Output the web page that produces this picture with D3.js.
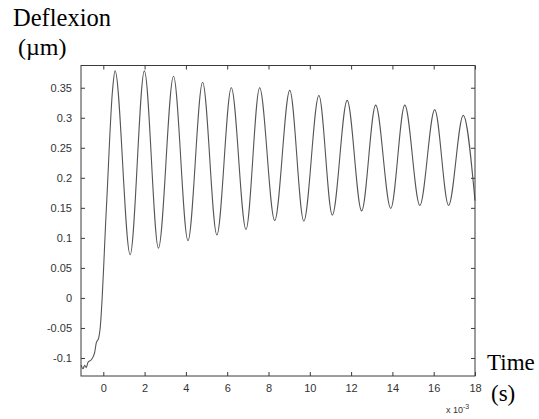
<!DOCTYPE html>
<html>
<head>
<meta charset="utf-8">
<script src="https://cdn.jsdelivr.net/npm/d3@7"></script>
<style>
  body { margin: 0; background: #fff; }
  svg { display: block; }
</style>
</head>
<body>
<svg id="chart" width="539" height="419"></svg>
<script>
// time in ms (x 10^-3 s), deflexion in µm
const timeMs = [
  -1.07, -0.985, -0.90, -0.825, -0.74, -0.58, -0.42, -0.34, -0.22, -0.16,
  0.15, 0.45,
  0.57, 1.30, 1.99, 2.67, 3.40, 4.10, 4.81, 5.50, 6.20, 6.91,
  7.57, 8.30, 9.03, 9.71, 10.44, 11.09, 11.81, 12.51, 13.19, 13.92,
  14.60, 15.33, 16.05, 16.72, 17.43, 18.0
];
const deflexion = [
  -0.112, -0.118, -0.112, -0.116, -0.107, -0.103, -0.091, -0.075, -0.066, -0.053,
  0.150, 0.347,
  0.378, 0.072, 0.378, 0.083, 0.369, 0.0955, 0.359, 0.105, 0.350, 0.114,
  0.350, 0.129, 0.3455, 0.128, 0.337, 0.138, 0.329, 0.145, 0.321, 0.149,
  0.321, 0.154, 0.3135, 0.154, 0.304, 0.162
];

const xTicks = [0, 2, 4, 6, 8, 10, 12, 14, 16, 18];
const xTickLabels = ['0', '2', '4', '6', '8', '10', '12', '14', '16', '18'];
const yTicks = [-0.1, -0.05, 0, 0.05, 0.1, 0.15, 0.2, 0.25, 0.3, 0.35];
const yTickLabels = ['-0.1', '-0.05', '0', '0.05', '0.1', '0.15', '0.2', '0.25', '0.3', '0.35'];

const boxLeft = 81, boxRight = 475, boxTop = 65.5, boxBottom = 376;

const svg = d3.select('#chart');

const x = d3.scaleLinear().domain([-1.08, 18]).range([boxLeft, boxRight]);
const y = d3.scaleLinear().domain([-0.13, 0.387]).range([boxBottom, boxTop]);

const data = timeMs.map((t, i) => ({ t: t, v: deflexion[i] }));

// curve
const line = d3.line()
    .x((d) => x(d.t))
    .y((d) => y(d.v))
    .curve(d3.curveMonotoneX);

svg.append('path')
    .datum(data)
    .attr('d', line)
    .attr('fill', 'none')
    .attr('stroke', '#555')
    .attr('stroke-width', 1.1);

const axisColor = '#3a3a3a';
const tickFont = 'Liberation Sans, Arial, sans-serif';

// bottom axis, ticks inward
const xAxis = svg.append('g')
    .attr('transform', `translate(0,${boxBottom})`)
    .call(d3.axisBottom(x).tickValues(xTicks).tickSizeInner(-4).tickSizeOuter(0)
        .tickPadding(8).tickFormat((d, i) => xTickLabels[i]));

// top axis, ticks only
const xTop = svg.append('g')
    .attr('transform', `translate(0,${boxTop})`)
    .call(d3.axisTop(x).tickValues(xTicks).tickSizeInner(-4).tickSizeOuter(0).tickFormat(''));

// left axis
const yAxis = svg.append('g')
    .attr('transform', `translate(${boxLeft},0)`)
    .call(d3.axisLeft(y).tickValues(yTicks).tickSizeInner(-4).tickSizeOuter(0)
        .tickPadding(9).tickFormat((d, i) => yTickLabels[i]));

// right axis, ticks only
const yRight = svg.append('g')
    .attr('transform', `translate(${boxRight},0)`)
    .call(d3.axisRight(y).tickValues(yTicks).tickSizeInner(-4).tickSizeOuter(0).tickFormat(''));

[xAxis, xTop, yAxis, yRight].forEach((g) => {
    g.select('.domain').remove();
    g.selectAll('line').attr('stroke', axisColor);
    g.selectAll('text')
        .attr('fill', '#333')
        .style('font-family', tickFont)
        .style('font-size', '11px');
});

// box
svg.append('rect')
    .attr('x', boxLeft)
    .attr('y', boxTop)
    .attr('width', boxRight - boxLeft)
    .attr('height', boxBottom - boxTop)
    .attr('fill', 'none')
    .attr('stroke', axisColor)
    .attr('stroke-width', 1);

// exponent label
const expo = svg.append('text')
    .attr('x', 446)
    .attr('y', 413)
    .attr('fill', '#333')
    .style('font-family', tickFont)
    .style('font-size', '9px');
expo.append('tspan').text('x 10');
expo.append('tspan').attr('dy', -4).style('font-size', '7px').text('-3');

// axis titles
const titleFont = 'Liberation Serif, Times New Roman, serif';
svg.append('text').attr('x', 13).attr('y', 26)
    .style('font-family', titleFont).style('font-size', '24.5px').text('Deflexion');
svg.append('text').attr('x', 18).attr('y', 55)
    .style('font-family', titleFont).style('font-size', '24px').text('(\u00b5m)');
svg.append('text').attr('x', 487).attr('y', 370)
    .style('font-family', titleFont).style('font-size', '23px').text('Time');
svg.append('text').attr('x', 491).attr('y', 401)
    .style('font-family', titleFont).style('font-size', '23px').text('(s)');
</script>
</body>
</html>
